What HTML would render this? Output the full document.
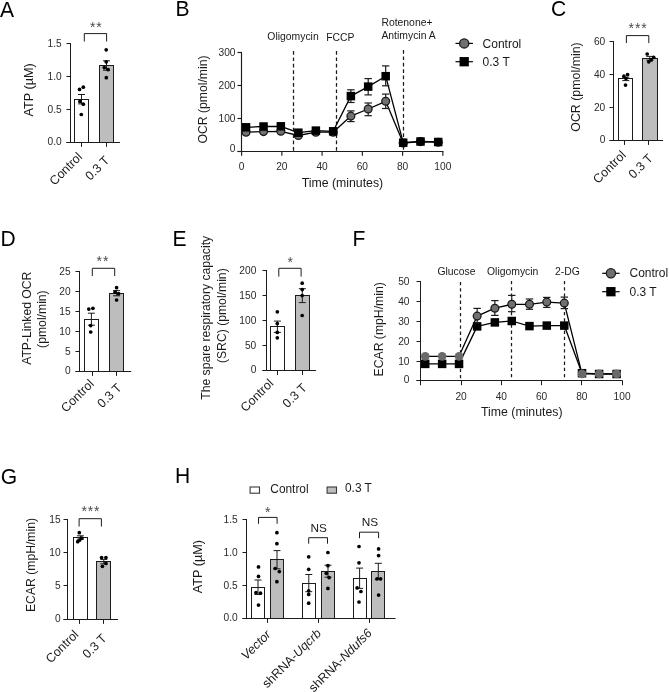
<!DOCTYPE html>
<html lang="en">
<head>
<meta charset="utf-8">
<title>Figure</title>
<style>
html,body{margin:0;padding:0;background:#fff;}
body{width:669px;height:692px;overflow:hidden;}
svg{display:block;font-family:"Liberation Sans",Arial,Helvetica,sans-serif;}
</style>
</head>
<body>
<svg width="669" height="692" viewBox="0 0 669 692">
<rect x="0" y="0" width="669" height="692" fill="#fff"/>
<text x="0" y="17.2" font-size="22.3" text-anchor="start" fill="#000" textLength="14.06" lengthAdjust="spacingAndGlyphs">A</text>
<rect x="74.5" y="99.5" width="14" height="43" fill="#fff" stroke="#1c1c1c" stroke-width="1"/>
<rect x="99.5" y="65.5" width="14" height="77" fill="#bdbdbd" stroke="#1c1c1c" stroke-width="1"/>
<line x1="70.5" y1="143" x2="70.5" y2="43" stroke="#1c1c1c" stroke-width="1.0" />
<line x1="66.5" y1="43.5" x2="70.5" y2="43.5" stroke="#1c1c1c" stroke-width="1.0" />
<text x="61.7" y="46.97" font-size="10.2" text-anchor="end" fill="#2a2a2a" >1.5</text>
<line x1="66.5" y1="76.5" x2="70.5" y2="76.5" stroke="#1c1c1c" stroke-width="1.0" />
<text x="61.7" y="80.07" font-size="10.2" text-anchor="end" fill="#2a2a2a" >1.0</text>
<line x1="66.5" y1="109.5" x2="70.5" y2="109.5" stroke="#1c1c1c" stroke-width="1.0" />
<text x="61.7" y="113.17" font-size="10.2" text-anchor="end" fill="#2a2a2a" >0.5</text>
<line x1="66.5" y1="142.5" x2="70.5" y2="142.5" stroke="#1c1c1c" stroke-width="1.0" />
<text x="61.7" y="145.37" font-size="10.2" text-anchor="end" fill="#2a2a2a" >0.0</text>
<line x1="66.5" y1="142.5" x2="120" y2="142.5" stroke="#1c1c1c" stroke-width="1.0" />
<line x1="81.5" y1="142.5" x2="81.5" y2="146.9" stroke="#1c1c1c" stroke-width="1.0" />
<line x1="106.5" y1="142.5" x2="106.5" y2="146.9" stroke="#1c1c1c" stroke-width="1.0" />
<line x1="81.5" y1="94.5" x2="81.5" y2="103.9" stroke="#1c1c1c" stroke-width="1.0" />
<line x1="78" y1="94.5" x2="85" y2="94.5" stroke="#1c1c1c" stroke-width="1.0" />
<line x1="78" y1="103.9" x2="85" y2="103.9" stroke="#1c1c1c" stroke-width="1.0" />
<line x1="106.5" y1="60.8" x2="106.5" y2="70.2" stroke="#1c1c1c" stroke-width="1.0" />
<line x1="103" y1="60.8" x2="110" y2="60.8" stroke="#1c1c1c" stroke-width="1.0" />
<line x1="103" y1="70.2" x2="110" y2="70.2" stroke="#1c1c1c" stroke-width="1.0" />
<circle cx="79.5" cy="89.4" r="1.85" fill="#000"/>
<circle cx="83.3" cy="87.2" r="1.85" fill="#000"/>
<circle cx="79.9" cy="101.4" r="1.85" fill="#000"/>
<circle cx="83.3" cy="104.2" r="1.85" fill="#000"/>
<circle cx="81.3" cy="114.5" r="1.85" fill="#000"/>
<circle cx="106.2" cy="49.8" r="1.85" fill="#000"/>
<circle cx="106.2" cy="61.8" r="1.85" fill="#000"/>
<circle cx="104.3" cy="67.6" r="1.85" fill="#000"/>
<circle cx="108.1" cy="69.6" r="1.85" fill="#000"/>
<circle cx="106.3" cy="77.7" r="1.85" fill="#000"/>
<polyline points="84.3,41.5 84.3,33.6 106.6,33.6 106.6,41.5" fill="none" stroke="#1c1c1c" stroke-width="1.0"/>
<text x="96.3" y="31.6" font-size="14" text-anchor="middle" fill="#4a4a4a" letter-spacing="0.9">**</text>
<text x="33.4" y="89.9" font-size="12.2" text-anchor="middle" fill="#1a1a1a" transform="rotate(-90 33.4 89.9)" textLength="53.2" lengthAdjust="spacingAndGlyphs">ATP (µM)</text>
<text x="83" y="157.5" font-size="12.5" text-anchor="end" fill="#1a1a1a" transform="rotate(-45 83 157.5)" >Control</text>
<text x="110.2" y="161.1" font-size="12.5" text-anchor="end" fill="#1a1a1a" transform="rotate(-45 110.2 161.1)" >0.3 T</text>
<text x="551.1" y="16.3" font-size="22.3" text-anchor="start" fill="#000" textLength="15.22" lengthAdjust="spacingAndGlyphs">C</text>
<rect x="618.5" y="78.5" width="14" height="62" fill="#fff" stroke="#1c1c1c" stroke-width="1"/>
<rect x="642.5" y="58.5" width="15" height="82" fill="#bdbdbd" stroke="#1c1c1c" stroke-width="1"/>
<line x1="613.5" y1="141" x2="613.5" y2="41" stroke="#1c1c1c" stroke-width="1.0" />
<line x1="609.5" y1="41.5" x2="613.5" y2="41.5" stroke="#1c1c1c" stroke-width="1.0" />
<text x="605.3" y="44.67" font-size="10.2" text-anchor="end" fill="#2a2a2a" >60</text>
<line x1="609.5" y1="74.5" x2="613.5" y2="74.5" stroke="#1c1c1c" stroke-width="1.0" />
<text x="605.3" y="77.77" font-size="10.2" text-anchor="end" fill="#2a2a2a" >40</text>
<line x1="609.5" y1="107.5" x2="613.5" y2="107.5" stroke="#1c1c1c" stroke-width="1.0" />
<text x="605.3" y="110.77" font-size="10.2" text-anchor="end" fill="#2a2a2a" >20</text>
<line x1="609.5" y1="140.5" x2="613.5" y2="140.5" stroke="#1c1c1c" stroke-width="1.0" />
<text x="605.3" y="142.97" font-size="10.2" text-anchor="end" fill="#2a2a2a" >0</text>
<line x1="609.5" y1="140.5" x2="663" y2="140.5" stroke="#1c1c1c" stroke-width="1.0" />
<line x1="624.5" y1="140.5" x2="624.5" y2="144.9" stroke="#1c1c1c" stroke-width="1.0" />
<line x1="648.5" y1="140.5" x2="648.5" y2="144.9" stroke="#1c1c1c" stroke-width="1.0" />
<line x1="625.8" y1="77.2" x2="625.8" y2="80.6" stroke="#1c1c1c" stroke-width="1.0" />
<line x1="622.3" y1="77.2" x2="629.3" y2="77.2" stroke="#1c1c1c" stroke-width="1.0" />
<line x1="622.3" y1="80.6" x2="629.3" y2="80.6" stroke="#1c1c1c" stroke-width="1.0" />
<line x1="649.8" y1="56.4" x2="649.8" y2="60.2" stroke="#1c1c1c" stroke-width="1.0" />
<line x1="646.3" y1="56.4" x2="653.3" y2="56.4" stroke="#1c1c1c" stroke-width="1.0" />
<line x1="646.3" y1="60.2" x2="653.3" y2="60.2" stroke="#1c1c1c" stroke-width="1.0" />
<circle cx="623.9" cy="76.2" r="1.85" fill="#000"/>
<circle cx="627.6" cy="74.6" r="1.85" fill="#000"/>
<circle cx="626" cy="78.6" r="1.85" fill="#000"/>
<circle cx="625.5" cy="85.1" r="1.85" fill="#000"/>
<circle cx="647.2" cy="54" r="1.85" fill="#000"/>
<circle cx="653.7" cy="57.3" r="1.85" fill="#000"/>
<circle cx="651.3" cy="59.9" r="1.85" fill="#000"/>
<circle cx="648.8" cy="61.8" r="1.85" fill="#000"/>
<polyline points="626.4,43.1 626.4,35.6 648.8,35.6 648.8,43.1" fill="none" stroke="#1c1c1c" stroke-width="1.0"/>
<text x="638.1" y="32.9" font-size="14" text-anchor="middle" fill="#4a4a4a" letter-spacing="0.9">***</text>
<text x="579.9" y="87" font-size="12.4" text-anchor="middle" fill="#1a1a1a" transform="rotate(-90 579.9 87)" >OCR (pmol/min)</text>
<text x="626.6" y="155.8" font-size="12.5" text-anchor="end" fill="#1a1a1a" transform="rotate(-45 626.6 155.8)" >Control</text>
<text x="653.6" y="159.2" font-size="12.5" text-anchor="end" fill="#1a1a1a" transform="rotate(-45 653.6 159.2)" >0.3 T</text>
<text x="0.4" y="245.5" font-size="22.3" text-anchor="start" fill="#000" textLength="15.22" lengthAdjust="spacingAndGlyphs">D</text>
<rect x="84.5" y="319.5" width="14" height="52" fill="#fff" stroke="#1c1c1c" stroke-width="1"/>
<rect x="109.5" y="293.5" width="14" height="78" fill="#bdbdbd" stroke="#1c1c1c" stroke-width="1"/>
<line x1="79.5" y1="372" x2="79.5" y2="271" stroke="#1c1c1c" stroke-width="1.0" />
<line x1="75.5" y1="271.5" x2="79.5" y2="271.5" stroke="#1c1c1c" stroke-width="1.0" />
<text x="70.7" y="275.07" font-size="10.2" text-anchor="end" fill="#2a2a2a" >25</text>
<line x1="75.5" y1="291.5" x2="79.5" y2="291.5" stroke="#1c1c1c" stroke-width="1.0" />
<text x="70.7" y="295.07" font-size="10.2" text-anchor="end" fill="#2a2a2a" >20</text>
<line x1="75.5" y1="311.5" x2="79.5" y2="311.5" stroke="#1c1c1c" stroke-width="1.0" />
<text x="70.7" y="314.97" font-size="10.2" text-anchor="end" fill="#2a2a2a" >15</text>
<line x1="75.5" y1="331.5" x2="79.5" y2="331.5" stroke="#1c1c1c" stroke-width="1.0" />
<text x="70.7" y="334.87" font-size="10.2" text-anchor="end" fill="#2a2a2a" >10</text>
<line x1="75.5" y1="351.5" x2="79.5" y2="351.5" stroke="#1c1c1c" stroke-width="1.0" />
<text x="70.7" y="354.87" font-size="10.2" text-anchor="end" fill="#2a2a2a" >5</text>
<line x1="75.5" y1="371.5" x2="79.5" y2="371.5" stroke="#1c1c1c" stroke-width="1.0" />
<text x="70.7" y="373.67" font-size="10.2" text-anchor="end" fill="#2a2a2a" >0</text>
<line x1="75.5" y1="371.5" x2="131.2" y2="371.5" stroke="#1c1c1c" stroke-width="1.0" />
<line x1="92.5" y1="371.5" x2="92.5" y2="375.9" stroke="#1c1c1c" stroke-width="1.0" />
<line x1="116.5" y1="371.5" x2="116.5" y2="375.9" stroke="#1c1c1c" stroke-width="1.0" />
<line x1="91.4" y1="313.2" x2="91.4" y2="325.2" stroke="#1c1c1c" stroke-width="1.0" />
<line x1="87.9" y1="313.2" x2="94.9" y2="313.2" stroke="#1c1c1c" stroke-width="1.0" />
<line x1="87.9" y1="325.2" x2="94.9" y2="325.2" stroke="#1c1c1c" stroke-width="1.0" />
<line x1="116.6" y1="290.6" x2="116.6" y2="295.8" stroke="#1c1c1c" stroke-width="1.0" />
<line x1="113.1" y1="290.6" x2="120.1" y2="290.6" stroke="#1c1c1c" stroke-width="1.0" />
<line x1="113.1" y1="295.8" x2="120.1" y2="295.8" stroke="#1c1c1c" stroke-width="1.0" />
<circle cx="88.8" cy="309.1" r="1.85" fill="#000"/>
<circle cx="92.9" cy="308.3" r="1.85" fill="#000"/>
<circle cx="90.7" cy="325.6" r="1.85" fill="#000"/>
<circle cx="90.7" cy="332" r="1.85" fill="#000"/>
<circle cx="116.6" cy="287.7" r="1.85" fill="#000"/>
<circle cx="115" cy="292.2" r="1.85" fill="#000"/>
<circle cx="118.6" cy="293.6" r="1.85" fill="#000"/>
<circle cx="116.6" cy="300" r="1.85" fill="#000"/>
<polyline points="92.3,276 92.3,268.3 114.7,268.3 114.7,276" fill="none" stroke="#1c1c1c" stroke-width="1.0"/>
<text x="102.9" y="265.6" font-size="14" text-anchor="middle" fill="#4a4a4a" letter-spacing="0.9">**</text>
<text x="31.1" y="318.2" font-size="12.2" text-anchor="middle" fill="#1a1a1a" transform="rotate(-90 31.1 318.2)" >ATP-Linked OCR</text>
<text x="46.3" y="319.1" font-size="12.2" text-anchor="middle" fill="#1a1a1a" transform="rotate(-90 46.3 319.1)" >(pmol/min)</text>
<text x="94.6" y="384.5" font-size="12.5" text-anchor="end" fill="#1a1a1a" transform="rotate(-45 94.6 384.5)" >Control</text>
<text x="122.3" y="388.5" font-size="12.5" text-anchor="end" fill="#1a1a1a" transform="rotate(-45 122.3 388.5)" >0.3 T</text>
<text x="172.4" y="246.1" font-size="22.3" text-anchor="start" fill="#000" textLength="14.06" lengthAdjust="spacingAndGlyphs">E</text>
<rect x="270.5" y="326.5" width="14" height="44" fill="#fff" stroke="#1c1c1c" stroke-width="1"/>
<rect x="295.5" y="295.5" width="14" height="75" fill="#bdbdbd" stroke="#1c1c1c" stroke-width="1"/>
<line x1="266.5" y1="371" x2="266.5" y2="270" stroke="#1c1c1c" stroke-width="1.0" />
<line x1="262.5" y1="270.5" x2="266.5" y2="270.5" stroke="#1c1c1c" stroke-width="1.0" />
<text x="256.3" y="274.37" font-size="10.2" text-anchor="end" fill="#2a2a2a" >200</text>
<line x1="262.5" y1="295.5" x2="266.5" y2="295.5" stroke="#1c1c1c" stroke-width="1.0" />
<text x="256.3" y="299.47" font-size="10.2" text-anchor="end" fill="#2a2a2a" >150</text>
<line x1="262.5" y1="320.5" x2="266.5" y2="320.5" stroke="#1c1c1c" stroke-width="1.0" />
<text x="256.3" y="324.47" font-size="10.2" text-anchor="end" fill="#2a2a2a" >100</text>
<line x1="262.5" y1="345.5" x2="266.5" y2="345.5" stroke="#1c1c1c" stroke-width="1.0" />
<text x="256.3" y="349.47" font-size="10.2" text-anchor="end" fill="#2a2a2a" >50</text>
<line x1="262.5" y1="370.5" x2="266.5" y2="370.5" stroke="#1c1c1c" stroke-width="1.0" />
<text x="256.3" y="373.47" font-size="10.2" text-anchor="end" fill="#2a2a2a" >0</text>
<line x1="262.5" y1="370.5" x2="315.9" y2="370.5" stroke="#1c1c1c" stroke-width="1.0" />
<line x1="277.5" y1="370.5" x2="277.5" y2="374.9" stroke="#1c1c1c" stroke-width="1.0" />
<line x1="302.5" y1="370.5" x2="302.5" y2="374.9" stroke="#1c1c1c" stroke-width="1.0" />
<line x1="277.4" y1="321.1" x2="277.4" y2="332.4" stroke="#1c1c1c" stroke-width="1.0" />
<line x1="273.9" y1="321.1" x2="280.9" y2="321.1" stroke="#1c1c1c" stroke-width="1.0" />
<line x1="273.9" y1="332.4" x2="280.9" y2="332.4" stroke="#1c1c1c" stroke-width="1.0" />
<line x1="302.3" y1="288.7" x2="302.3" y2="302.6" stroke="#1c1c1c" stroke-width="1.0" />
<line x1="298.8" y1="288.7" x2="305.8" y2="288.7" stroke="#1c1c1c" stroke-width="1.0" />
<line x1="298.8" y1="302.6" x2="305.8" y2="302.6" stroke="#1c1c1c" stroke-width="1.0" />
<circle cx="277.3" cy="311.8" r="1.85" fill="#000"/>
<circle cx="277.3" cy="323.6" r="1.85" fill="#000"/>
<circle cx="277.3" cy="332.4" r="1.85" fill="#000"/>
<circle cx="277.3" cy="337.8" r="1.85" fill="#000"/>
<circle cx="302.2" cy="283.2" r="1.85" fill="#000"/>
<circle cx="302.2" cy="289.6" r="1.85" fill="#000"/>
<circle cx="302.2" cy="295.6" r="1.85" fill="#000"/>
<circle cx="302.2" cy="315.5" r="1.85" fill="#000"/>
<polyline points="278.8,276.6 278.8,268.3 301.1,268.3 301.1,276.6" fill="none" stroke="#1c1c1c" stroke-width="1.0"/>
<text x="290.8" y="266.6" font-size="14" text-anchor="middle" fill="#4a4a4a" letter-spacing="0.9">*</text>
<text x="210.1" y="317.8" font-size="12.2" text-anchor="middle" fill="#1a1a1a" transform="rotate(-90 210.1 317.8)" >The spare respiratory capacity</text>
<text x="226.4" y="315.7" font-size="12.2" text-anchor="middle" fill="#1a1a1a" transform="rotate(-90 226.4 315.7)" >(SRC) (pmol/min)</text>
<text x="274.1" y="384.1" font-size="12.5" text-anchor="end" fill="#1a1a1a" transform="rotate(-45 274.1 384.1)" >Control</text>
<text x="307.6" y="388.5" font-size="12.5" text-anchor="end" fill="#1a1a1a" transform="rotate(-45 307.6 388.5)" >0.3 T</text>
<text x="0.8" y="483.8" font-size="22.3" text-anchor="start" fill="#000" textLength="16.4" lengthAdjust="spacingAndGlyphs">G</text>
<rect x="73.5" y="537.5" width="14" height="82" fill="#fff" stroke="#1c1c1c" stroke-width="1"/>
<rect x="96.5" y="561.5" width="14" height="58" fill="#bdbdbd" stroke="#1c1c1c" stroke-width="1"/>
<line x1="67.5" y1="620" x2="67.5" y2="519" stroke="#1c1c1c" stroke-width="1.0" />
<line x1="63.5" y1="519.5" x2="67.5" y2="519.5" stroke="#1c1c1c" stroke-width="1.0" />
<text x="60.7" y="522.97" font-size="10.2" text-anchor="end" fill="#2a2a2a" >15</text>
<line x1="63.5" y1="552.5" x2="67.5" y2="552.5" stroke="#1c1c1c" stroke-width="1.0" />
<text x="60.7" y="556.17" font-size="10.2" text-anchor="end" fill="#2a2a2a" >10</text>
<line x1="63.5" y1="585.5" x2="67.5" y2="585.5" stroke="#1c1c1c" stroke-width="1.0" />
<text x="60.7" y="589.37" font-size="10.2" text-anchor="end" fill="#2a2a2a" >5</text>
<line x1="63.5" y1="619.5" x2="67.5" y2="619.5" stroke="#1c1c1c" stroke-width="1.0" />
<text x="60.7" y="621.87" font-size="10.2" text-anchor="end" fill="#2a2a2a" >0</text>
<line x1="63.5" y1="619.5" x2="118" y2="619.5" stroke="#1c1c1c" stroke-width="1.0" />
<line x1="79.5" y1="619.5" x2="79.5" y2="623.9" stroke="#1c1c1c" stroke-width="1.0" />
<line x1="103.5" y1="619.5" x2="103.5" y2="623.9" stroke="#1c1c1c" stroke-width="1.0" />
<line x1="80.4" y1="535.8" x2="80.4" y2="539.2" stroke="#1c1c1c" stroke-width="1.0" />
<line x1="76.9" y1="535.8" x2="83.9" y2="535.8" stroke="#1c1c1c" stroke-width="1.0" />
<line x1="76.9" y1="539.2" x2="83.9" y2="539.2" stroke="#1c1c1c" stroke-width="1.0" />
<line x1="103.8" y1="559.4" x2="103.8" y2="563.8" stroke="#1c1c1c" stroke-width="1.0" />
<line x1="100.3" y1="559.4" x2="107.3" y2="559.4" stroke="#1c1c1c" stroke-width="1.0" />
<line x1="100.3" y1="563.8" x2="107.3" y2="563.8" stroke="#1c1c1c" stroke-width="1.0" />
<circle cx="79.3" cy="532.7" r="1.85" fill="#000"/>
<circle cx="77.7" cy="541.7" r="1.85" fill="#000"/>
<circle cx="81.6" cy="538.2" r="1.85" fill="#000"/>
<circle cx="79.7" cy="540.1" r="1.85" fill="#000"/>
<circle cx="101.6" cy="557.6" r="1.85" fill="#000"/>
<circle cx="105.9" cy="557.6" r="1.85" fill="#000"/>
<circle cx="105.9" cy="563.4" r="1.85" fill="#000"/>
<circle cx="102.4" cy="566.3" r="1.85" fill="#000"/>
<polyline points="79.1,526.5 79.1,518.7 101.4,518.7 101.4,526.5" fill="none" stroke="#1c1c1c" stroke-width="1.0"/>
<text x="90.9" y="516.1" font-size="14" text-anchor="middle" fill="#4a4a4a" letter-spacing="0.9">***</text>
<text x="34.6" y="565" font-size="12.2" text-anchor="middle" fill="#1a1a1a" transform="rotate(-90 34.6 565)" >ECAR (mpH/min)</text>
<text x="79.3" y="635.3" font-size="12.5" text-anchor="end" fill="#1a1a1a" transform="rotate(-45 79.3 635.3)" >Control</text>
<text x="107.5" y="639.1" font-size="12.5" text-anchor="end" fill="#1a1a1a" transform="rotate(-45 107.5 639.1)" >0.3 T</text>
<text x="175" y="483.2" font-size="22.3" text-anchor="start" fill="#000" textLength="15.22" lengthAdjust="spacingAndGlyphs">H</text>
<rect x="251.5" y="587.5" width="13" height="31" fill="#fff" stroke="#1c1c1c" stroke-width="1"/>
<rect x="270.5" y="559.5" width="13" height="59" fill="#bdbdbd" stroke="#1c1c1c" stroke-width="1"/>
<rect x="302.5" y="583.5" width="13" height="35" fill="#fff" stroke="#1c1c1c" stroke-width="1"/>
<rect x="321.5" y="571.5" width="13" height="47" fill="#bdbdbd" stroke="#1c1c1c" stroke-width="1"/>
<rect x="353.5" y="578.5" width="13" height="40" fill="#fff" stroke="#1c1c1c" stroke-width="1"/>
<rect x="371.5" y="571.5" width="13" height="47" fill="#bdbdbd" stroke="#1c1c1c" stroke-width="1"/>
<line x1="246.5" y1="619" x2="246.5" y2="519" stroke="#1c1c1c" stroke-width="1.0" />
<line x1="242.5" y1="519.5" x2="246.5" y2="519.5" stroke="#1c1c1c" stroke-width="1.0" />
<text x="237.7" y="522.67" font-size="10.2" text-anchor="end" fill="#2a2a2a" >1.5</text>
<line x1="242.5" y1="552.5" x2="246.5" y2="552.5" stroke="#1c1c1c" stroke-width="1.0" />
<text x="237.7" y="555.67" font-size="10.2" text-anchor="end" fill="#2a2a2a" >1.0</text>
<line x1="242.5" y1="585.5" x2="246.5" y2="585.5" stroke="#1c1c1c" stroke-width="1.0" />
<text x="237.7" y="588.67" font-size="10.2" text-anchor="end" fill="#2a2a2a" >0.5</text>
<line x1="242.5" y1="618.5" x2="246.5" y2="618.5" stroke="#1c1c1c" stroke-width="1.0" />
<text x="237.7" y="621.47" font-size="10.2" text-anchor="end" fill="#2a2a2a" >0.0</text>
<line x1="242.5" y1="618.5" x2="395.6" y2="618.5" stroke="#1c1c1c" stroke-width="1.0" />
<line x1="267.5" y1="618.5" x2="267.5" y2="622.9" stroke="#1c1c1c" stroke-width="1.0" />
<line x1="318.5" y1="618.5" x2="318.5" y2="622.9" stroke="#1c1c1c" stroke-width="1.0" />
<line x1="369.5" y1="618.5" x2="369.5" y2="622.9" stroke="#1c1c1c" stroke-width="1.0" />
<line x1="258" y1="580" x2="258" y2="594.4" stroke="#1c1c1c" stroke-width="1.0" />
<line x1="254.5" y1="580" x2="261.5" y2="580" stroke="#1c1c1c" stroke-width="1.0" />
<line x1="254.5" y1="594.4" x2="261.5" y2="594.4" stroke="#1c1c1c" stroke-width="1.0" />
<line x1="277" y1="550.6" x2="277" y2="568.8" stroke="#1c1c1c" stroke-width="1.0" />
<line x1="273.5" y1="550.6" x2="280.5" y2="550.6" stroke="#1c1c1c" stroke-width="1.0" />
<line x1="273.5" y1="568.8" x2="280.5" y2="568.8" stroke="#1c1c1c" stroke-width="1.0" />
<line x1="308.8" y1="574.5" x2="308.8" y2="591.7" stroke="#1c1c1c" stroke-width="1.0" />
<line x1="305.3" y1="574.5" x2="312.3" y2="574.5" stroke="#1c1c1c" stroke-width="1.0" />
<line x1="305.3" y1="591.7" x2="312.3" y2="591.7" stroke="#1c1c1c" stroke-width="1.0" />
<line x1="328" y1="565.2" x2="328" y2="577.2" stroke="#1c1c1c" stroke-width="1.0" />
<line x1="324.5" y1="565.2" x2="331.5" y2="565.2" stroke="#1c1c1c" stroke-width="1.0" />
<line x1="324.5" y1="577.2" x2="331.5" y2="577.2" stroke="#1c1c1c" stroke-width="1.0" />
<line x1="359.6" y1="568.1" x2="359.6" y2="588.4" stroke="#1c1c1c" stroke-width="1.0" />
<line x1="356.1" y1="568.1" x2="363.1" y2="568.1" stroke="#1c1c1c" stroke-width="1.0" />
<line x1="356.1" y1="588.4" x2="363.1" y2="588.4" stroke="#1c1c1c" stroke-width="1.0" />
<line x1="378.3" y1="563.3" x2="378.3" y2="579.6" stroke="#1c1c1c" stroke-width="1.0" />
<line x1="374.8" y1="563.3" x2="381.8" y2="563.3" stroke="#1c1c1c" stroke-width="1.0" />
<line x1="374.8" y1="579.6" x2="381.8" y2="579.6" stroke="#1c1c1c" stroke-width="1.0" />
<circle cx="258.5" cy="566.9" r="1.85" fill="#000"/>
<circle cx="258.5" cy="576.4" r="1.85" fill="#000"/>
<circle cx="256" cy="592.7" r="1.85" fill="#000"/>
<circle cx="260.5" cy="593.2" r="1.85" fill="#000"/>
<circle cx="258.5" cy="605.1" r="1.85" fill="#000"/>
<circle cx="276.9" cy="532.7" r="1.85" fill="#000"/>
<circle cx="276.9" cy="543.7" r="1.85" fill="#000"/>
<circle cx="275.2" cy="568.5" r="1.85" fill="#000"/>
<circle cx="279.3" cy="571.6" r="1.85" fill="#000"/>
<circle cx="276.9" cy="581.7" r="1.85" fill="#000"/>
<circle cx="308.7" cy="556.8" r="1.85" fill="#000"/>
<circle cx="308.7" cy="569.3" r="1.85" fill="#000"/>
<circle cx="308.7" cy="590.8" r="1.85" fill="#000"/>
<circle cx="308.7" cy="594.4" r="1.85" fill="#000"/>
<circle cx="308.7" cy="603.2" r="1.85" fill="#000"/>
<circle cx="327.9" cy="552.5" r="1.85" fill="#000"/>
<circle cx="327.9" cy="565.7" r="1.85" fill="#000"/>
<circle cx="326.3" cy="573.3" r="1.85" fill="#000"/>
<circle cx="329.1" cy="577.6" r="1.85" fill="#000"/>
<circle cx="327.9" cy="588.4" r="1.85" fill="#000"/>
<circle cx="359" cy="546.5" r="1.85" fill="#000"/>
<circle cx="359" cy="562.8" r="1.85" fill="#000"/>
<circle cx="357.1" cy="587.9" r="1.85" fill="#000"/>
<circle cx="360.9" cy="591.5" r="1.85" fill="#000"/>
<circle cx="359" cy="602" r="1.85" fill="#000"/>
<circle cx="378.6" cy="548.9" r="1.85" fill="#000"/>
<circle cx="378.6" cy="555.6" r="1.85" fill="#000"/>
<circle cx="377" cy="578.8" r="1.85" fill="#000"/>
<circle cx="380.6" cy="578.8" r="1.85" fill="#000"/>
<circle cx="378.6" cy="595.1" r="1.85" fill="#000"/>
<polyline points="258.5,523.8 258.5,517.4 277.1,517.4 277.1,523.8" fill="none" stroke="#1c1c1c" stroke-width="1.0"/>
<text x="268.2" y="516.6" font-size="14" text-anchor="middle" fill="#4a4a4a" letter-spacing="0.9">*</text>
<polyline points="308.7,543.7 308.7,537.7 327.5,537.7 327.5,543.7" fill="none" stroke="#1c1c1c" stroke-width="1.0"/>
<text x="318.8" y="531.5" font-size="11.8" text-anchor="middle" fill="#1a1a1a" >NS</text>
<polyline points="359.5,538.2 359.5,532.2 378.6,532.2 378.6,538.2" fill="none" stroke="#1c1c1c" stroke-width="1.0"/>
<text x="369.9" y="525.5" font-size="11.8" text-anchor="middle" fill="#1a1a1a" >NS</text>
<text x="202.1" y="566.6" font-size="12.2" text-anchor="middle" fill="#1a1a1a" transform="rotate(-90 202.1 566.6)" textLength="53.2" lengthAdjust="spacingAndGlyphs">ATP (µM)</text>
<rect x="250.1" y="487.0" width="9.4" height="6.2" fill="#fff" stroke="#3a3a3a" stroke-width="1.1"/>
<text x="270.3" y="492.7" font-size="11.9" text-anchor="start" fill="#1a1a1a" >Control</text>
<rect x="327.1" y="487.0" width="9.4" height="6.2" fill="#bdbdbd" stroke="#3a3a3a" stroke-width="1.1"/>
<text x="345" y="492.3" font-size="11.9" text-anchor="start" fill="#1a1a1a" >0.3 T</text>
<text x="271.5" y="635.3" font-size="12.5" text-anchor="end" fill="#1a1a1a" transform="rotate(-45 271.5 635.3)" font-style="italic">Vector</text>
<text x="321.8" y="634.1" font-size="12.5" text-anchor="end" fill="#1a1a1a" transform="rotate(-45 321.8 634.1)" >shRNA-<tspan font-style="italic">Uqcrb</tspan></text>
<text x="372.7" y="633.8" font-size="12.5" text-anchor="end" fill="#1a1a1a" transform="rotate(-45 372.7 633.8)" >shRNA-<tspan font-style="italic">Ndufs6</tspan></text>
<text x="175.4" y="15.7" font-size="22.3" text-anchor="start" fill="#000" textLength="14.06" lengthAdjust="spacingAndGlyphs">B</text>
<line x1="293.5" y1="51" x2="293.5" y2="151.5" stroke="#1a1a1a" stroke-width="1.25" stroke-dasharray="3.7 2.7"/>
<line x1="336.5" y1="51" x2="336.5" y2="151.5" stroke="#1a1a1a" stroke-width="1.25" stroke-dasharray="3.7 2.7"/>
<line x1="403.5" y1="50" x2="403.5" y2="151.5" stroke="#1a1a1a" stroke-width="1.25" stroke-dasharray="3.7 2.7"/>
<polyline points="246.03,132.2 263.54,131.6 280.84,131.3 298.35,135.5 315.86,132.2 333.17,132.2 350.88,116.1 368.19,109 385.69,101.3 403.2,143 420.51,141.6 438.22,142.2" fill="none" stroke="#000" stroke-width="1.3" stroke-linejoin="round"/>
<line x1="350.88" y1="110.9" x2="350.88" y2="121.6" stroke="#1c1c1c" stroke-width="1.2" />
<line x1="347.18" y1="110.9" x2="354.58" y2="110.9" stroke="#1c1c1c" stroke-width="1.2" />
<line x1="347.18" y1="121.6" x2="354.58" y2="121.6" stroke="#1c1c1c" stroke-width="1.2" />
<line x1="368.19" y1="103" x2="368.19" y2="115.7" stroke="#1c1c1c" stroke-width="1.2" />
<line x1="364.49" y1="103" x2="371.89" y2="103" stroke="#1c1c1c" stroke-width="1.2" />
<line x1="364.49" y1="115.7" x2="371.89" y2="115.7" stroke="#1c1c1c" stroke-width="1.2" />
<line x1="385.69" y1="94.1" x2="385.69" y2="108.5" stroke="#1c1c1c" stroke-width="1.2" />
<line x1="382" y1="94.1" x2="389.39" y2="94.1" stroke="#1c1c1c" stroke-width="1.2" />
<line x1="382" y1="108.5" x2="389.39" y2="108.5" stroke="#1c1c1c" stroke-width="1.2" />
<circle cx="246.03" cy="132.2" r="3.9" fill="#707070" stroke="#1a1a1a" stroke-width="1.3"/>
<circle cx="263.54" cy="131.6" r="3.9" fill="#707070" stroke="#1a1a1a" stroke-width="1.3"/>
<circle cx="280.84" cy="131.3" r="3.9" fill="#707070" stroke="#1a1a1a" stroke-width="1.3"/>
<circle cx="298.35" cy="135.5" r="3.9" fill="#707070" stroke="#1a1a1a" stroke-width="1.3"/>
<circle cx="315.86" cy="132.2" r="3.9" fill="#707070" stroke="#1a1a1a" stroke-width="1.3"/>
<circle cx="333.17" cy="132.2" r="3.9" fill="#707070" stroke="#1a1a1a" stroke-width="1.3"/>
<circle cx="350.88" cy="116.1" r="3.9" fill="#707070" stroke="#1a1a1a" stroke-width="1.3"/>
<circle cx="368.19" cy="109" r="3.9" fill="#707070" stroke="#1a1a1a" stroke-width="1.3"/>
<circle cx="385.69" cy="101.3" r="3.9" fill="#707070" stroke="#1a1a1a" stroke-width="1.3"/>
<circle cx="403.2" cy="143" r="3.9" fill="#707070" stroke="#1a1a1a" stroke-width="1.3"/>
<circle cx="420.51" cy="141.6" r="3.9" fill="#707070" stroke="#1a1a1a" stroke-width="1.3"/>
<circle cx="438.22" cy="142.2" r="3.9" fill="#707070" stroke="#1a1a1a" stroke-width="1.3"/>
<polyline points="246.03,127.3 263.54,126.5 280.84,126.3 298.35,132.7 315.86,130.6 333.17,131.3 350.88,96.1 368.19,86.6 385.69,76.2 403.2,142.7 420.51,141.5 438.22,142" fill="none" stroke="#000" stroke-width="1.3" stroke-linejoin="round"/>
<line x1="350.88" y1="89.8" x2="350.88" y2="102.5" stroke="#1c1c1c" stroke-width="1.2" />
<line x1="347.18" y1="89.8" x2="354.58" y2="89.8" stroke="#1c1c1c" stroke-width="1.2" />
<line x1="347.18" y1="102.5" x2="354.58" y2="102.5" stroke="#1c1c1c" stroke-width="1.2" />
<line x1="368.19" y1="78.6" x2="368.19" y2="94.9" stroke="#1c1c1c" stroke-width="1.2" />
<line x1="364.49" y1="78.6" x2="371.89" y2="78.6" stroke="#1c1c1c" stroke-width="1.2" />
<line x1="364.49" y1="94.9" x2="371.89" y2="94.9" stroke="#1c1c1c" stroke-width="1.2" />
<line x1="385.69" y1="65.9" x2="385.69" y2="85.8" stroke="#1c1c1c" stroke-width="1.2" />
<line x1="382" y1="65.9" x2="389.39" y2="65.9" stroke="#1c1c1c" stroke-width="1.2" />
<line x1="382" y1="85.8" x2="389.39" y2="85.8" stroke="#1c1c1c" stroke-width="1.2" />
<rect x="241.78" y="123.05" width="8.5" height="8.5" fill="#000"/>
<rect x="259.29" y="122.25" width="8.5" height="8.5" fill="#000"/>
<rect x="276.59" y="122.05" width="8.5" height="8.5" fill="#000"/>
<rect x="294.1" y="128.45" width="8.5" height="8.5" fill="#000"/>
<rect x="311.61" y="126.35" width="8.5" height="8.5" fill="#000"/>
<rect x="328.92" y="127.05" width="8.5" height="8.5" fill="#000"/>
<rect x="346.63" y="91.85" width="8.5" height="8.5" fill="#000"/>
<rect x="363.94" y="82.35" width="8.5" height="8.5" fill="#000"/>
<rect x="381.44" y="71.95" width="8.5" height="8.5" fill="#000"/>
<rect x="398.95" y="138.45" width="8.5" height="8.5" fill="#000"/>
<rect x="416.26" y="137.25" width="8.5" height="8.5" fill="#000"/>
<rect x="433.97" y="137.75" width="8.5" height="8.5" fill="#000"/>
<line x1="241.5" y1="152.07" x2="241.5" y2="51.92" stroke="#1c1c1c" stroke-width="1.15" />
<line x1="237.5" y1="52.5" x2="241.5" y2="52.5" stroke="#1c1c1c" stroke-width="1.15" />
<text x="235.5" y="55.77" font-size="10.2" text-anchor="end" fill="#2a2a2a" >300</text>
<line x1="237.5" y1="85.5" x2="241.5" y2="85.5" stroke="#1c1c1c" stroke-width="1.15" />
<text x="235.5" y="88.87" font-size="10.2" text-anchor="end" fill="#2a2a2a" >200</text>
<line x1="237.5" y1="118.5" x2="241.5" y2="118.5" stroke="#1c1c1c" stroke-width="1.15" />
<text x="235.5" y="121.97" font-size="10.2" text-anchor="end" fill="#2a2a2a" >100</text>
<line x1="237.5" y1="151.5" x2="241.5" y2="151.5" stroke="#1c1c1c" stroke-width="1.15" />
<text x="235.5" y="152.47" font-size="10.2" text-anchor="end" fill="#2a2a2a" >0</text>
<line x1="237.5" y1="151.5" x2="443.45" y2="151.5" stroke="#1c1c1c" stroke-width="1.15" />
<line x1="241.6" y1="151.5" x2="241.6" y2="155.7" stroke="#1c1c1c" stroke-width="1.15" />
<text x="241.6" y="169.7" font-size="10.2" text-anchor="middle" fill="#2a2a2a" >0</text>
<line x1="281.85" y1="151.5" x2="281.85" y2="155.7" stroke="#1c1c1c" stroke-width="1.15" />
<text x="281.85" y="169.7" font-size="10.2" text-anchor="middle" fill="#2a2a2a" >20</text>
<line x1="322.1" y1="151.5" x2="322.1" y2="155.7" stroke="#1c1c1c" stroke-width="1.15" />
<text x="322.1" y="169.7" font-size="10.2" text-anchor="middle" fill="#2a2a2a" >40</text>
<line x1="362.35" y1="151.5" x2="362.35" y2="155.7" stroke="#1c1c1c" stroke-width="1.15" />
<text x="362.35" y="169.7" font-size="10.2" text-anchor="middle" fill="#2a2a2a" >60</text>
<line x1="402.6" y1="151.5" x2="402.6" y2="155.7" stroke="#1c1c1c" stroke-width="1.15" />
<text x="402.6" y="169.7" font-size="10.2" text-anchor="middle" fill="#2a2a2a" >80</text>
<line x1="442.85" y1="151.5" x2="442.85" y2="155.7" stroke="#1c1c1c" stroke-width="1.15" />
<text x="442.85" y="169.7" font-size="10.2" text-anchor="middle" fill="#2a2a2a" >100</text>
<text x="342.4" y="186.6" font-size="12.3" text-anchor="middle" fill="#1a1a1a" >Time (minutes)</text>
<text x="207" y="99.5" font-size="12.2" text-anchor="middle" fill="#1a1a1a" transform="rotate(-90 207 99.5)" >OCR (pmol/min)</text>
<text x="267.3" y="39.7" font-size="10.4" text-anchor="start" fill="#1a1a1a" >Oligomycin</text>
<text x="326.2" y="41" font-size="10.4" text-anchor="start" fill="#1a1a1a" >FCCP</text>
<text x="381.4" y="25.8" font-size="10.4" text-anchor="start" fill="#1a1a1a" >Rotenone+</text>
<text x="381.4" y="38.7" font-size="10.4" text-anchor="start" fill="#1a1a1a" >Antimycin A</text>
<line x1="455.5" y1="43.4" x2="472.9" y2="43.4" stroke="#000" stroke-width="1.2" />
<circle cx="464.2" cy="43.4" r="4.6" fill="#707070" stroke="#1a1a1a" stroke-width="1.3"/>
<line x1="455.5" y1="61.7" x2="472.9" y2="61.7" stroke="#000" stroke-width="1.2" />
<rect x="459.55" y="57.05" width="9.3" height="9.3" fill="#000"/>
<text x="482.6" y="47.7" font-size="12.0" text-anchor="start" fill="#1a1a1a" >Control</text>
<text x="482.6" y="66" font-size="12.0" text-anchor="start" fill="#1a1a1a" >0.3 T</text>
<text x="352.5" y="246.1" font-size="22.3" text-anchor="start" fill="#000" textLength="12.88" lengthAdjust="spacingAndGlyphs">F</text>
<line x1="460.5" y1="282" x2="460.5" y2="380.5" stroke="#1a1a1a" stroke-width="1.25" stroke-dasharray="3.3 2.9"/>
<line x1="511.5" y1="281" x2="511.5" y2="380.5" stroke="#1a1a1a" stroke-width="1.25" stroke-dasharray="3.3 2.9"/>
<line x1="564.5" y1="281" x2="564.5" y2="380.5" stroke="#1a1a1a" stroke-width="1.25" stroke-dasharray="3.3 2.9"/>
<polyline points="425.23,363.9 442.13,363.9 459.04,363.9 477.15,326.4 494.86,322.4 511.77,321 529.48,326.1 546.78,325.6 564.29,325.6 582,373.2 599.11,374 616.62,374" fill="none" stroke="#000" stroke-width="1.3" stroke-linejoin="round"/>
<rect x="420.98" y="359.65" width="8.5" height="8.5" fill="#000"/>
<rect x="437.88" y="359.65" width="8.5" height="8.5" fill="#000"/>
<rect x="454.79" y="359.65" width="8.5" height="8.5" fill="#000"/>
<rect x="472.9" y="322.15" width="8.5" height="8.5" fill="#000"/>
<rect x="490.61" y="318.15" width="8.5" height="8.5" fill="#000"/>
<rect x="507.52" y="316.75" width="8.5" height="8.5" fill="#000"/>
<rect x="525.23" y="321.85" width="8.5" height="8.5" fill="#000"/>
<rect x="542.53" y="321.35" width="8.5" height="8.5" fill="#000"/>
<rect x="560.04" y="321.35" width="8.5" height="8.5" fill="#000"/>
<rect x="577.75" y="368.95" width="8.5" height="8.5" fill="#000"/>
<rect x="594.86" y="369.75" width="8.5" height="8.5" fill="#000"/>
<rect x="612.37" y="369.75" width="8.5" height="8.5" fill="#000"/>
<polyline points="425.23,356.3 442.13,356.3 459.04,356.3 477.15,316.1 494.86,308.2 511.77,304.3 529.48,304.3 546.78,302.1 564.29,303.1 582,373.9 599.11,373.9 616.62,373.9" fill="none" stroke="#000" stroke-width="1.3" stroke-linejoin="round"/>
<line x1="477.15" y1="308.4" x2="477.15" y2="323" stroke="#1c1c1c" stroke-width="1.2" />
<line x1="473.45" y1="308.4" x2="480.85" y2="308.4" stroke="#1c1c1c" stroke-width="1.2" />
<line x1="473.45" y1="323" x2="480.85" y2="323" stroke="#1c1c1c" stroke-width="1.2" />
<line x1="494.86" y1="300.6" x2="494.86" y2="315.4" stroke="#1c1c1c" stroke-width="1.2" />
<line x1="491.16" y1="300.6" x2="498.56" y2="300.6" stroke="#1c1c1c" stroke-width="1.2" />
<line x1="491.16" y1="315.4" x2="498.56" y2="315.4" stroke="#1c1c1c" stroke-width="1.2" />
<line x1="511.77" y1="295.4" x2="511.77" y2="311.7" stroke="#1c1c1c" stroke-width="1.2" />
<line x1="508.07" y1="295.4" x2="515.47" y2="295.4" stroke="#1c1c1c" stroke-width="1.2" />
<line x1="508.07" y1="311.7" x2="515.47" y2="311.7" stroke="#1c1c1c" stroke-width="1.2" />
<line x1="529.48" y1="299" x2="529.48" y2="309.3" stroke="#1c1c1c" stroke-width="1.2" />
<line x1="525.77" y1="299" x2="533.18" y2="299" stroke="#1c1c1c" stroke-width="1.2" />
<line x1="525.77" y1="309.3" x2="533.18" y2="309.3" stroke="#1c1c1c" stroke-width="1.2" />
<line x1="546.78" y1="297.4" x2="546.78" y2="307.4" stroke="#1c1c1c" stroke-width="1.2" />
<line x1="543.08" y1="297.4" x2="550.48" y2="297.4" stroke="#1c1c1c" stroke-width="1.2" />
<line x1="543.08" y1="307.4" x2="550.48" y2="307.4" stroke="#1c1c1c" stroke-width="1.2" />
<line x1="564.29" y1="297.1" x2="564.29" y2="308.6" stroke="#1c1c1c" stroke-width="1.2" />
<line x1="560.59" y1="297.1" x2="567.99" y2="297.1" stroke="#1c1c1c" stroke-width="1.2" />
<line x1="560.59" y1="308.6" x2="567.99" y2="308.6" stroke="#1c1c1c" stroke-width="1.2" />
<circle cx="425.23" cy="356.3" r="4.35" fill="#6a6a6a"/>
<circle cx="442.13" cy="356.3" r="4.35" fill="#6a6a6a"/>
<circle cx="459.04" cy="356.3" r="4.35" fill="#6a6a6a"/>
<circle cx="477.15" cy="316.1" r="3.9" fill="#707070" stroke="#1a1a1a" stroke-width="1.3"/>
<circle cx="494.86" cy="308.2" r="3.9" fill="#707070" stroke="#1a1a1a" stroke-width="1.3"/>
<circle cx="511.77" cy="304.3" r="3.9" fill="#707070" stroke="#1a1a1a" stroke-width="1.3"/>
<circle cx="529.48" cy="304.3" r="3.9" fill="#707070" stroke="#1a1a1a" stroke-width="1.3"/>
<circle cx="546.78" cy="302.1" r="3.9" fill="#707070" stroke="#1a1a1a" stroke-width="1.3"/>
<circle cx="564.29" cy="303.1" r="3.9" fill="#707070" stroke="#1a1a1a" stroke-width="1.3"/>
<circle cx="582" cy="373.9" r="4.35" fill="#6a6a6a"/>
<circle cx="599.11" cy="373.9" r="4.35" fill="#6a6a6a"/>
<circle cx="616.62" cy="373.9" r="4.35" fill="#6a6a6a"/>
<line x1="420.5" y1="381" x2="420.5" y2="281" stroke="#1c1c1c" stroke-width="1.0" />
<line x1="416.5" y1="281.5" x2="420.5" y2="281.5" stroke="#1c1c1c" stroke-width="1.0" />
<text x="409.5" y="284.87" font-size="10.2" text-anchor="end" fill="#2a2a2a" >50</text>
<line x1="416.5" y1="301.5" x2="420.5" y2="301.5" stroke="#1c1c1c" stroke-width="1.0" />
<text x="409.5" y="304.87" font-size="10.2" text-anchor="end" fill="#2a2a2a" >40</text>
<line x1="416.5" y1="321.5" x2="420.5" y2="321.5" stroke="#1c1c1c" stroke-width="1.0" />
<text x="409.5" y="324.77" font-size="10.2" text-anchor="end" fill="#2a2a2a" >30</text>
<line x1="416.5" y1="341.5" x2="420.5" y2="341.5" stroke="#1c1c1c" stroke-width="1.0" />
<text x="409.5" y="344.67" font-size="10.2" text-anchor="end" fill="#2a2a2a" >20</text>
<line x1="416.5" y1="361.5" x2="420.5" y2="361.5" stroke="#1c1c1c" stroke-width="1.0" />
<text x="409.5" y="364.67" font-size="10.2" text-anchor="end" fill="#2a2a2a" >10</text>
<line x1="416.5" y1="380.5" x2="420.5" y2="380.5" stroke="#1c1c1c" stroke-width="1.0" />
<text x="409.5" y="383.17" font-size="10.2" text-anchor="end" fill="#2a2a2a" >0</text>
<line x1="416.5" y1="380.5" x2="622.55" y2="380.5" stroke="#1c1c1c" stroke-width="1.0" />
<line x1="420.5" y1="380.5" x2="420.5" y2="385.2" stroke="#1c1c1c" stroke-width="1.0" />
<line x1="461.5" y1="380.5" x2="461.5" y2="385.2" stroke="#1c1c1c" stroke-width="1.0" />
<text x="461.05" y="399.5" font-size="10.2" text-anchor="middle" fill="#2a2a2a" >20</text>
<line x1="501.5" y1="380.5" x2="501.5" y2="385.2" stroke="#1c1c1c" stroke-width="1.0" />
<text x="501.3" y="399.5" font-size="10.2" text-anchor="middle" fill="#2a2a2a" >40</text>
<line x1="541.5" y1="380.5" x2="541.5" y2="385.2" stroke="#1c1c1c" stroke-width="1.0" />
<text x="541.55" y="399.5" font-size="10.2" text-anchor="middle" fill="#2a2a2a" >60</text>
<line x1="581.5" y1="380.5" x2="581.5" y2="385.2" stroke="#1c1c1c" stroke-width="1.0" />
<text x="581.8" y="399.5" font-size="10.2" text-anchor="middle" fill="#2a2a2a" >80</text>
<line x1="622.5" y1="380.5" x2="622.5" y2="385.2" stroke="#1c1c1c" stroke-width="1.0" />
<text x="622.05" y="399.5" font-size="10.2" text-anchor="middle" fill="#2a2a2a" >100</text>
<text x="521.8" y="416" font-size="12.3" text-anchor="middle" fill="#1a1a1a" >Time (minutes)</text>
<text x="382.7" y="329.3" font-size="12.2" text-anchor="middle" fill="#1a1a1a" transform="rotate(-90 382.7 329.3)" >ECAR (mpH/min)</text>
<text x="437.4" y="275" font-size="10.4" text-anchor="start" fill="#1a1a1a" >Glucose</text>
<text x="487" y="274.6" font-size="10.4" text-anchor="start" fill="#1a1a1a" >Oligomycin</text>
<text x="555" y="275.1" font-size="10.4" text-anchor="start" fill="#1a1a1a" >2-DG</text>
<line x1="602.2" y1="273.3" x2="619.6" y2="273.3" stroke="#000" stroke-width="1.2" />
<circle cx="610.9" cy="273.3" r="4.6" fill="#707070" stroke="#1a1a1a" stroke-width="1.3"/>
<line x1="602.2" y1="291.7" x2="619.6" y2="291.7" stroke="#000" stroke-width="1.2" />
<rect x="606.25" y="287.05" width="9.3" height="9.3" fill="#000"/>
<text x="629.5" y="277.3" font-size="12.0" text-anchor="start" fill="#1a1a1a" >Control</text>
<text x="629.5" y="295.7" font-size="12.0" text-anchor="start" fill="#1a1a1a" >0.3 T</text>
</svg>
</body>
</html>
